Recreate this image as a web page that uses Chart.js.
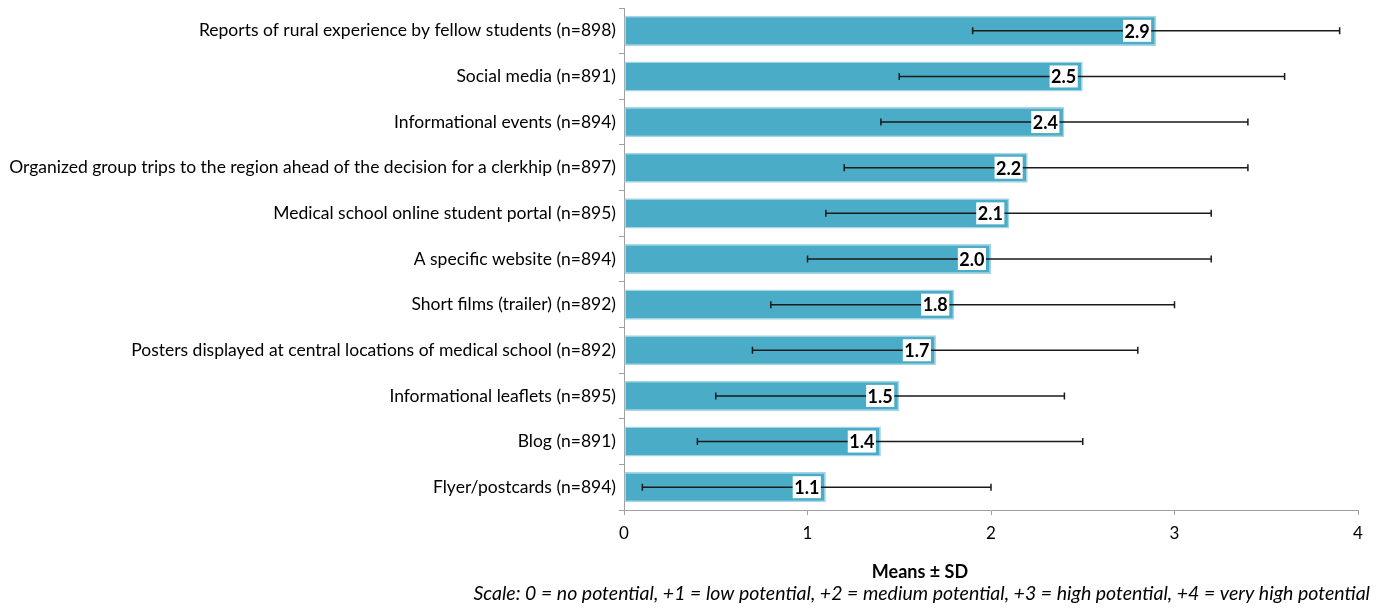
<!DOCTYPE html>
<html lang="en">
<head>
  <meta charset="UTF-8" />
  <title>Potential of information channels</title>
  <script src="https://cdn.jsdelivr.net/npm/chart.js"></script>
  <style>
    html, body { margin: 0; padding: 0; background: #fff; }
    #wrap { position: relative; width: 1384px; height: 608px; }
  </style>
</head>
<body>
<div id="wrap"><canvas id="chart"></canvas></div>
<script>
  const categories = [
    'Reports of rural experience by fellow students (n=898)',
    'Social media (n=891)',
    'Informational events (n=894)',
    'Organized group trips to the region ahead of the decision for a clerkhip (n=897)',
    'Medical school online student portal (n=895)',
    'A specific website (n=894)',
    'Short films (trailer) (n=892)',
    'Posters displayed at central locations of medical school (n=892)',
    'Informational leaflets (n=895)',
    'Blog (n=891)',
    'Flyer/postcards (n=894)'
  ];
  const means  = [2.9, 2.5, 2.4, 2.2, 2.1, 2.0, 1.8, 1.7, 1.5, 1.4, 1.1];
  // ends of the mean ± SD whiskers
  const sdLow  = [1.9, 1.5, 1.4, 1.2, 1.1, 1.0, 0.8, 0.7, 0.5, 0.4, 0.1];
  const sdHigh = [3.9, 3.6, 3.4, 3.4, 3.2, 3.2, 3.0, 2.8, 2.4, 2.5, 2.0];
  const xMin = 0, xMax = 4, xStep = 1;
  const axisTitle = 'Means \u00b1 SD';
  const scaleNote = 'Scale: 0 = no potential, +1 = low potential, +2 = medium potential, +3 = high potential, +4 = very high potential';

  const FONT = "Lato, 'Open Sans', sans-serif";
  Chart.defaults.font.family = FONT;
  Chart.defaults.color = '#000';

  const errorBars = {
    id: 'errorBars',
    afterDatasetsDraw(chart) {
      const ctx = chart.ctx;
      const xs = chart.scales.x;
      const bars = chart.getDatasetMeta(0).data;
      ctx.save();
      ctx.strokeStyle = '#1a1a1a';
      ctx.lineWidth = 1.5;
      bars.forEach((bar, i) => {
        const y = bar.y;
        const x1 = xs.getPixelForValue(sdLow[i]);
        const x2 = xs.getPixelForValue(sdHigh[i]);
        ctx.beginPath();
        ctx.moveTo(x1, y); ctx.lineTo(x2, y);
        ctx.moveTo(x1, y - 3.5); ctx.lineTo(x1, y + 3.5);
        ctx.moveTo(x2, y - 3.5); ctx.lineTo(x2, y + 3.5);
        ctx.stroke();
      });
      ctx.restore();
    }
  };

  const valueLabels = {
    id: 'valueLabels',
    afterDatasetsDraw(chart) {
      const ctx = chart.ctx;
      const bars = chart.getDatasetMeta(0).data;
      ctx.save();
      ctx.font = 'bold 18px ' + FONT;
      ctx.textAlign = 'center';
      ctx.textBaseline = 'middle';
      bars.forEach((bar, i) => {
        const txt = means[i].toFixed(1);
        const w = ctx.measureText(txt).width + 3;
        const right = bar.x - 5;
        ctx.fillStyle = '#fff';
        ctx.fillRect(right - w, bar.y - 11, w, 22);
        ctx.fillStyle = '#000';
        ctx.fillText(txt, right - w / 2, bar.y + 1);
      });
      ctx.restore();
    }
  };

  const bottomText = {
    id: 'bottomText',
    afterDraw(chart) {
      const ctx = chart.ctx;
      const area = chart.chartArea;
      ctx.save();
      ctx.fillStyle = '#000';
      ctx.textBaseline = 'middle';
      ctx.font = 'bold 18px ' + FONT;
      ctx.textAlign = 'center';
      ctx.fillText(axisTitle, area.left + 296, area.bottom + 62);
      ctx.font = 'italic 19.5px ' + FONT;
      ctx.textAlign = 'right';
      ctx.fillText(scaleNote, chart.width - 14, area.bottom + 84);
      ctx.restore();
    }
  };

  new Chart(document.getElementById('chart'), {
    type: 'bar',
    data: {
      labels: categories,
      datasets: [{
        data: means,
        backgroundColor: '#4aacc6',
        borderColor: '#a6d6e5',
        borderWidth: 1.5,
        borderSkipped: false,
        barPercentage: 0.66,
        categoryPercentage: 1
      }]
    },
    options: {
      indexAxis: 'y',
      responsive: true,
      maintainAspectRatio: false,
      devicePixelRatio: 1,
      animation: false,
      layout: { padding: { top: 8, right: 26, left: 0, bottom: 0 } },
      plugins: {
        legend: { display: false },
        tooltip: { enabled: false }
      },
      scales: {
        y: {
          afterFit(scale) {
            scale.width = 624;
            scale.paddingTop = 0;
            scale.paddingBottom = 0;
          },
          grid: { offset: true, drawOnChartArea: false, tickLength: 5, color: '#a0a0a0' },
          border: { color: '#a0a0a0' },
          ticks: { font: { size: 17.5 }, color: '#000', padding: 3 }
        },
        x: {
          min: xMin,
          max: xMax,
          afterFit(scale) { scale.height = 98; },
          grid: { drawOnChartArea: false, tickLength: 5, color: '#a0a0a0' },
          border: { color: '#a0a0a0' },
          ticks: { stepSize: xStep, font: { size: 17 }, color: '#000', padding: 8 }
        }
      }
    },
    plugins: [errorBars, valueLabels, bottomText]
  });
</script>
</body>
</html>
